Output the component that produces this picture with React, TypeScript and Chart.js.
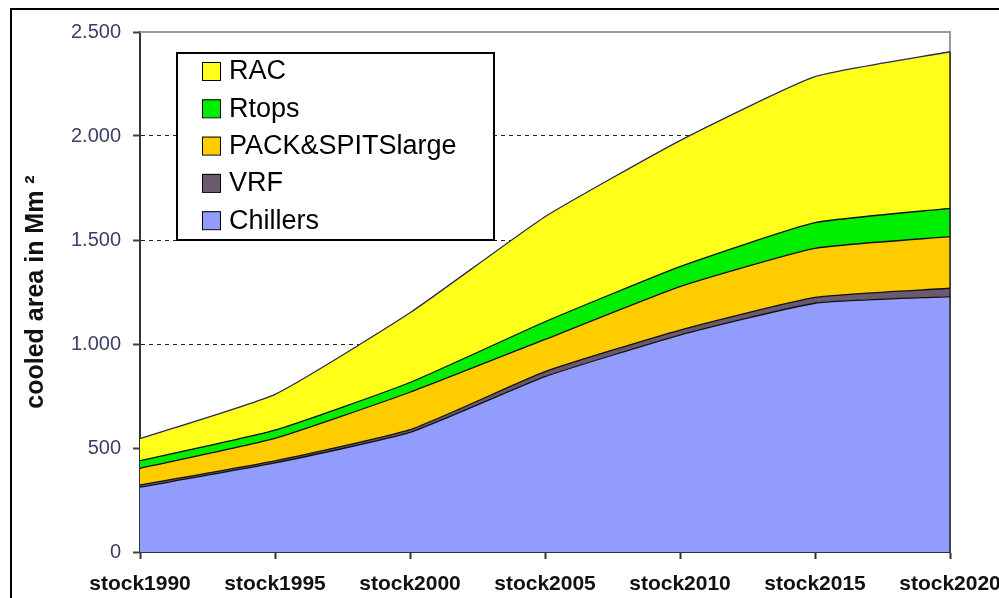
import React, { useEffect, useRef } from "react";
import { Chart, registerables } from "chart.js";

Chart.register(...registerables);

const categories = ["stock1990", "stock1995", "stock2000", "stock2005", "stock2010", "stock2015", "stock2020"];
const chillers = [312, 428, 575, 843, 1043, 1196, 1228];
const vrf = [10, 10, 13, 24, 24, 28, 40];
const packSpitsLarge = [80, 108, 180, 155, 209, 236, 248];
const rtops = [37, 40, 47, 85, 96, 123, 136];
const rac = [106, 172, 335, 505, 606, 702, 753];
const yTickValues = [0, 500, 1000, 1500, 2000, 2500];

const FONT = "'Liberation Sans', Arial, Helvetica, sans-serif";

const seriesNames = ["Chillers", "VRF", "PACK&SPITSlarge", "Rtops", "RAC"];
const seriesColors = ["#919cfc", "#6b5a6b", "#ffcc00", "#00ee00", "#ffff1a"];
const seriesValues = [chillers, vrf, packSpitsLarge, rtops, rac];

const fmt = (v: number) => {
  const s = String(Math.round(v));
  return s.replace(/\B(?=(\d{3})+(?!\d))/g, ".");
};

const framePlugin = {
  id: "framePlugin",
  beforeDraw(chart: any) {
    const ctx = chart.ctx;
    ctx.save();
    ctx.fillStyle = "#000";
    ctx.fillRect(10, 8, 999, 2);
    ctx.fillRect(10, 8, 2, 600);
    ctx.restore();
  },
  beforeDatasetsDraw(chart: any) {
    const { ctx, chartArea } = chart;
    ctx.save();
    ctx.strokeStyle = "#9a9a9a";
    ctx.lineWidth = 2;
    ctx.beginPath();
    ctx.moveTo(chartArea.left, chartArea.top);
    ctx.lineTo(chartArea.right, chartArea.top);
    ctx.lineTo(chartArea.right, chartArea.bottom);
    ctx.stroke();
    ctx.restore();
  },
  afterDatasetsDraw(chart: any) {
    const { ctx, chartArea, scales } = chart;
    const last = categories.length - 1;
    let total = 0;
    seriesValues.forEach((arr) => (total += arr[last]));
    const yTop = scales.y.getPixelForValue(total);
    ctx.save();
    ctx.strokeStyle = "#222";
    ctx.lineWidth = 1.5;
    ctx.beginPath();
    ctx.moveTo(chartArea.right, yTop);
    ctx.lineTo(chartArea.right, chartArea.bottom);
    ctx.stroke();
    ctx.restore();
  },
};

const boxLegendPlugin = {
  id: "boxLegend",
  afterDraw(chart: any) {
    const { ctx, chartArea } = chart;
    const x0 = chartArea.left + 37;
    const y0 = chartArea.top + 21;
    const w = 317;
    const h = 187;
    ctx.save();
    ctx.fillStyle = "#fff";
    ctx.fillRect(x0, y0, w, h);
    ctx.strokeStyle = "#000";
    ctx.lineWidth = 2;
    ctx.strokeRect(x0, y0, w, h);
    const items = chart.data.datasets.slice().reverse();
    ctx.font = `27px ${FONT}`;
    ctx.textBaseline = "middle";
    ctx.textAlign = "left";
    items.forEach((ds: any, i: number) => {
      const cy = y0 + 18 + i * 37.3;
      ctx.fillStyle = ds.backgroundColor;
      ctx.fillRect(x0 + 25, cy - 9, 18, 18);
      ctx.lineWidth = 1;
      ctx.strokeStyle = "#000";
      ctx.strokeRect(x0 + 25.5, cy - 8.5, 18, 18);
      ctx.fillStyle = "#000";
      ctx.fillText(ds.label, x0 + 52, cy + 1);
    });
    ctx.restore();
  },
};

export default function App() {
  const ref = useRef<HTMLCanvasElement | null>(null);

  useEffect(() => {
    if (!ref.current) return;
    const datasets = seriesNames.map((name, i) => ({
      label: name,
      data: seriesValues[i],
      backgroundColor: seriesColors[i],
      borderColor: i === 4 ? "#2a2a55" : "#111",
      borderWidth: 1.3,
      fill: i === 0 ? "origin" : "-1",
      pointRadius: 0,
      tension: 0.15,
    }));

    const chart = new Chart(ref.current, {
      type: "line",
      data: { labels: categories, datasets },
      plugins: [framePlugin, boxLegendPlugin],
      options: {
        responsive: false,
        animation: false,
        devicePixelRatio: 1,
        layout: { padding: { left: 0, top: 32, right: 49, bottom: 0 } },
        plugins: {
          legend: { display: false },
          tooltip: { enabled: false },
        },
        scales: {
          x: {
            type: "category",
            offset: false,
            grid: {
              display: true,
              drawOnChartArea: false,
              drawTicks: true,
              tickLength: 7,
              tickColor: "#333",
              tickWidth: 2,
            },
            border: { display: true, color: "#333", width: 2 },
            ticks: {
              autoSkip: false,
              maxRotation: 0,
              minRotation: 0,
              padding: 13,
              color: "#111",
              font: { family: FONT, size: 21, weight: "bold" },
            },
            afterFit: (scale: any) => {
              scale.height = 46;
              scale.paddingLeft = 0;
              scale.paddingRight = 0;
            },
          },
          y: {
            stacked: true,
            min: 0,
            max: 2500,
            afterBuildTicks: (scale: any) => {
              scale.ticks = yTickValues.map((v) => ({ value: v }));
            },
            grid: {
              drawTicks: true,
              tickLength: 7,
              tickColor: "#444",
              tickWidth: 2,
              lineWidth: 1,
              color: (c: any) => {
                const v = c.tick ? c.tick.value : null;
                if (v === 0 || v === 2500) return "rgba(0,0,0,0)";
                return "#222";
              },
            },
            border: { display: true, color: "#333", width: 2, dash: [4, 4] },
            ticks: {
              padding: 12,
              color: "#3b3e66",
              font: { family: FONT, size: 20 },
              callback: (v: any) => fmt(Number(v)),
            },
            title: {
              display: true,
              text: "cooled area in Mm ²",
              color: "#111",
              font: { family: FONT, size: 25, weight: "bold" },
              padding: { top: 21, bottom: 0 },
            },
            afterFit: (scale: any) => {
              scale.width = 140;
            },
          },
        },
      },
    } as any);

    return () => chart.destroy();
  }, []);

  return (
    <canvas
      ref={ref}
      width={999}
      height={598}
      style={{ position: "fixed", left: 0, top: 0, width: 999, height: 598 }}
    />
  );
}
